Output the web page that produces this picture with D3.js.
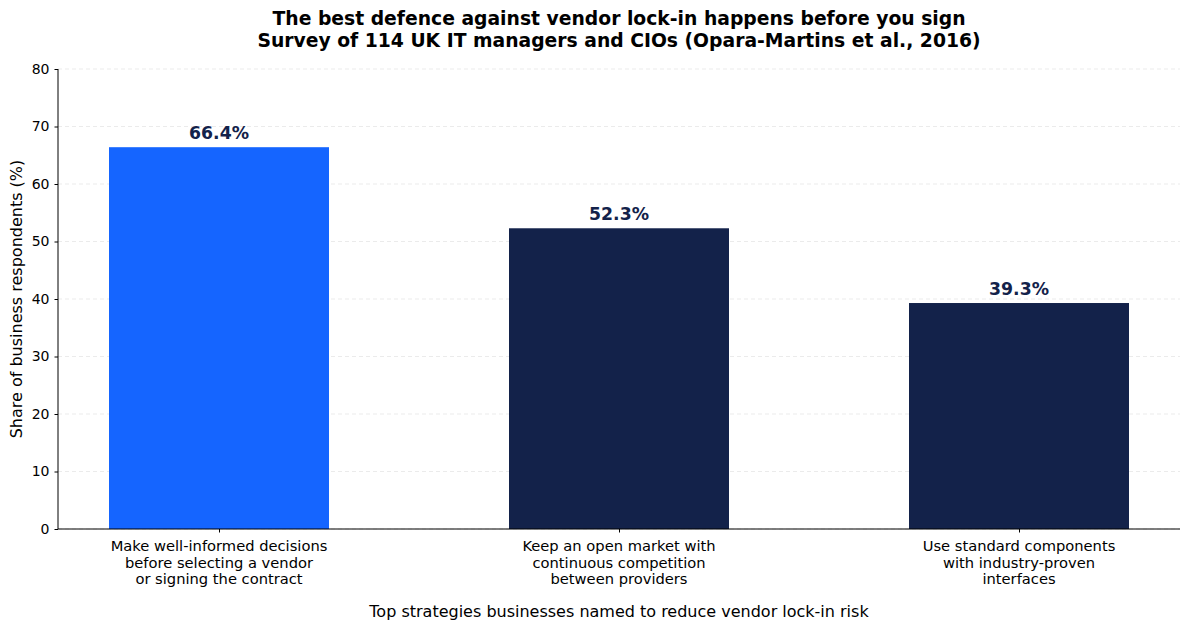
<!DOCTYPE html>
<html><head><meta charset="utf-8">
<script src="https://cdn.jsdelivr.net/npm/d3@7"></script>
<style>body{margin:0;background:#fff;} text{font-family:"DejaVu Sans",sans-serif;}</style>
</head><body>
<svg id="c" width="1189" height="630"></svg>
<script>
const categories = [
  ["Make well-informed decisions","before selecting a vendor","or signing the contract"],
  ["Keep an open market with","continuous competition","between providers"],
  ["Use standard components","with industry-proven","interfaces"]
];
const values = [66.4, 52.3, 39.3];
const barColors = ["#1565ff", "#13224a", "#13224a"];
const yTicks = [0,10,20,30,40,50,60,70,80];
const titleLines = ["The best defence against vendor lock-in happens before you sign",
  "Survey of 114 UK IT managers and CIOs (Opara-Martins et al., 2016)"];
const xTitle = "Top strategies businesses named to reduce vendor lock-in risk";
const yTitle = "Share of business respondents (%)";

const svg = d3.select("#c");
const L = 58, R = 1180, T = 69, B = 529;
const x = d3.scaleLinear().domain([-0.4025, 2.4025]).range([L, R]);
const y = d3.scaleLinear().domain([0, 80]).range([B, T]);
const bw = x(0.55) - x(0);

// grid
svg.append("g").selectAll("line").data(yTicks).join("line")
  .attr("x1", L).attr("x2", R).attr("y1", d => y(d)).attr("y2", d => y(d))
  .attr("stroke", "#e6e6e6").attr("stroke-width", 0.8).attr("stroke-dasharray", "4,3");

// bars
svg.append("g").selectAll("rect").data(values).join("rect")
  .attr("x", (d,i) => x(i) - bw/2).attr("width", bw)
  .attr("y", d => y(d)).attr("height", d => y(0) - y(d))
  .attr("fill", (d,i) => barColors[i]);

// value labels
svg.append("g").selectAll("text").data(values).join("text")
  .attr("x", (d,i) => x(i)).attr("y", d => y(d) - 8)
  .attr("text-anchor", "middle").attr("font-weight", "bold").attr("font-size", 17.3)
  .attr("fill", "#13224a").text(d => d.toFixed(1) + "%");

// y axis
const ya = svg.append("g").attr("transform", `translate(${L},0)`)
  .call(d3.axisLeft(y).tickValues(yTicks).tickSize(3.5).tickPadding(5));
ya.select(".domain").attr("stroke", "#000").attr("d", `M0,${B}V${T}`);
ya.selectAll("text").attr("font-size", 14).attr("fill", "#000").attr("font-family", "DejaVu Sans");

// x axis
const xa = svg.append("g").attr("transform", `translate(0,${B})`)
  .call(d3.axisBottom(x).tickValues([0,1,2]).tickSize(3.5).tickFormat(""));
xa.select(".domain").attr("stroke", "#000").attr("d", `M${L},0H${R}`);
categories.forEach((lines, i) => {
  const t = svg.append("text").attr("x", x(i)).attr("y", B + 22)
    .attr("text-anchor", "middle").attr("font-size", 14.7).attr("fill", "#000");
  lines.forEach((ln, j) => t.append("tspan").attr("x", x(i)).attr("dy", j ? 16.7 : 0).text(ln));
});

// axis titles
svg.append("text").attr("x", (L+R)/2).attr("y", 617).attr("text-anchor", "middle")
  .attr("font-size", 16).attr("fill", "#000").text(xTitle);
svg.append("text").attr("transform", `translate(22,${(T+B)/2}) rotate(-90)`)
  .attr("text-anchor", "middle").attr("font-size", 16).attr("fill", "#000").text(yTitle);

// title
titleLines.forEach((ln, j) => svg.append("text").attr("x", 619).attr("y", 25 + j*22)
  .attr("text-anchor", "middle").attr("font-weight", "bold").attr("font-size", 18.75)
  .attr("fill", "#000").text(ln));
</script>
</body></html>
